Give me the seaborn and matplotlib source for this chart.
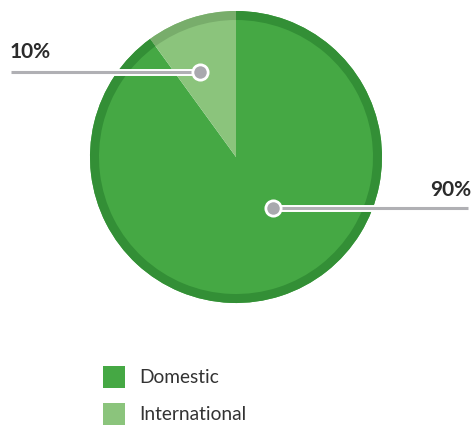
import matplotlib
matplotlib.use("Agg")
import matplotlib.pyplot as plt
import matplotlib.patheffects as pe
from matplotlib.patches import Rectangle
import seaborn as sns

# ---- data ----
categories = ["Domestic", "International"]
shares = [90, 10]
pct_labels = ["90%", "10%"]

# ---- style ----
sns.set_theme(style="white")
plt.rcParams["font.family"] = ["Lato", "DejaVu Sans"]
fill_colors = ["#45a844", "#8bc47c"]
ring_colors = ["#338f36", "#78ad6b"]

W, H = 475, 427
fig = plt.figure(figsize=(W / 100, H / 100), dpi=100)
ax = fig.add_axes([0, 0, 1, 1])

cx, cy, R = 236, H - 158, 146
ax.pie(shares, colors=fill_colors, startangle=90, counterclock=False,
       center=(cx, cy), radius=R, frame=True,
       wedgeprops=dict(linewidth=0))
ax.pie(shares, colors=ring_colors, startangle=90, counterclock=False,
       center=(cx, cy), radius=R, frame=True,
       wedgeprops=dict(width=9, linewidth=0))
ax.set_xlim(0, W)
ax.set_ylim(0, H)
ax.set_aspect("equal")
ax.axis("off")

# ---- callouts ----
dot_pos = {"90%": (273, H - 209), "10%": (200, H - 73)}
line_end = {"90%": 468, "10%": 11}
text_pos = {"90%": (471, H - 190, "right"), "10%": (10, H - 52, "left")}
stroke = [pe.Stroke(linewidth=5, foreground="white"), pe.Normal()]
for lab in pct_labels:
    dx, dy = dot_pos[lab]
    ax.plot([line_end[lab], dx], [dy, dy], color="#b0b0b4", lw=2.2,
            solid_capstyle="butt", path_effects=stroke, zorder=5)
    ax.plot([dx], [dy], "o", ms=11, mfc="#a9a9ae", mec="white", mew=2, zorder=6)
    tx, ty, ha = text_pos[lab]
    ax.text(tx, ty, lab, ha=ha, va="center", fontsize=15,
            fontweight="bold", color="#2b2b2b")

# ---- legend ----
leg_y = [H - 378, H - 415]
for cat, col, y in zip(categories, fill_colors, leg_y):
    ax.add_patch(Rectangle((103, y - 11), 22, 22, color=col, lw=0))
    ax.text(139, y, cat, ha="left", va="center", fontsize=13.8, color="#333333")

fig.savefig("out.png", dpi=100)
